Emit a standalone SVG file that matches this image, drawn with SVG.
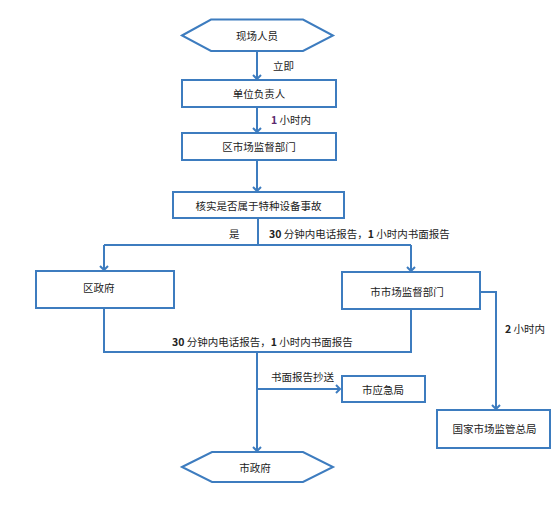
<svg xmlns="http://www.w3.org/2000/svg" width="551" height="506" viewBox="0 0 551 506">
<style>
.box{fill:#ffffff;stroke:#3d7cbf;stroke-width:2}
.ln{fill:none;stroke:#3d7cbf;stroke-width:2}
text{font-family:"Noto Sans CJK SC","Liberation Sans",sans-serif;font-size:10.5px;fill:#222222;dominant-baseline:central}
.c{text-anchor:middle}
.n{font-weight:bold}
</style>
<defs>
<marker id="ah" markerWidth="10" markerHeight="10" refX="5" refY="5" orient="auto" markerUnits="userSpaceOnUse">
<polyline points="1,1 5,5 1,9" fill="none" stroke="#3d7cbf" stroke-width="2"/>
</marker>
</defs>
<rect width="551" height="506" fill="#ffffff"/>
<g id="connectors">
<line class="ln" x1="257" y1="51" x2="257" y2="79" marker-end="url(#ah)"/>
<line class="ln" x1="257" y1="107" x2="257" y2="132" marker-end="url(#ah)"/>
<line class="ln" x1="257" y1="160" x2="257" y2="191" marker-end="url(#ah)"/>
<polyline class="ln" points="258,218 258,245"/>
<line class="ln" x1="104" y1="245" x2="411" y2="245"/>
<line class="ln" x1="104" y1="245" x2="104" y2="270" marker-end="url(#ah)"/>
<line class="ln" x1="411" y1="245" x2="411" y2="271" marker-end="url(#ah)"/>
<polyline class="ln" points="104,308 104,352 411,352 411,309"/>
<polyline class="ln" points="480,292 496,292 496,409" marker-end="url(#ah)"/>
<line class="ln" x1="257" y1="352" x2="257" y2="451" marker-end="url(#ah)"/>
<line class="ln" x1="257" y1="389" x2="340" y2="389" marker-end="url(#ah)"/>
<text x="273" y="65">立即</text>
<text x="271" y="119"><tspan class="n" fill="#5a2a6e">1</tspan> 小时内</text>
<text x="229" y="233">是</text>
<text x="269" y="233"><tspan class="n">30</tspan> 分钟内电话报告，<tspan class="n">1</tspan> 小时内书面报告</text>
<text x="172" y="341"><tspan class="n">30</tspan> 分钟内电话报告，<tspan class="n">1</tspan> 小时内书面报告</text>
<text x="505" y="328"><tspan class="n">2</tspan> 小时内</text>
<text x="271" y="376">书面报告抄送</text>
</g>
<g id="n1">
<polygon class="box" points="182,35.5 211,19.5 303,19.5 333,35.5 303,51 211,51"/>
<text class="c" x="257" y="35">现场人员</text>
</g>
<g id="n2">
<rect class="box" x="182" y="80" width="154" height="27"/>
<text class="c" x="259" y="93.5">单位负责人</text>
</g>
<g id="n3">
<rect class="box" x="182" y="133" width="154" height="27"/>
<text class="c" x="259" y="146.5">区市场监督部门</text>
</g>
<g id="n4">
<rect class="box" x="173" y="192" width="171" height="26"/>
<text class="c" x="258.5" y="205">核实是否属于特种设备事故</text>
</g>
<g id="n5">
<rect class="box" x="36" y="271" width="138" height="37"/>
<text x="83" y="287">区政府</text>
</g>
<g id="n6">
<rect class="box" x="342" y="272" width="138" height="37"/>
<text class="c" x="407" y="291">市市场监督部门</text>
</g>
<g id="n7">
<rect class="box" x="342" y="376" width="83" height="26"/>
<text class="c" x="383" y="389">市应急局</text>
</g>
<g id="n8">
<rect class="box" x="437" y="410" width="113" height="38"/>
<text class="c" x="494.5" y="428">国家市场监管总局</text>
</g>
<g id="n9">
<polygon class="box" points="182,467 212,452 303,452 333,467 303,482 212,482"/>
<text class="c" x="255" y="467">市政府</text>
</g>
</svg>
